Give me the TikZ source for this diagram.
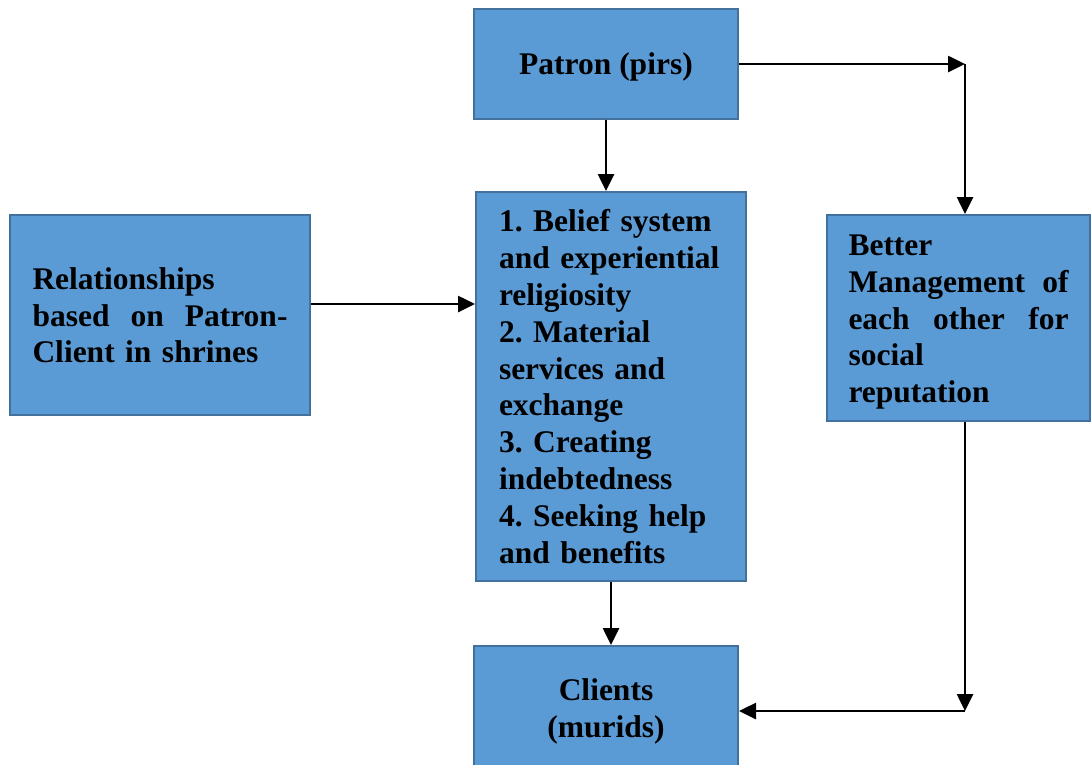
\documentclass[tikz,border=0pt]{standalone}
\usepackage{fontspec}
\setmainfont{Liberation Serif}
\usetikzlibrary{arrows.meta}
\frenchspacing
% full-width line: words pushed apart by \hfill
\newcommand{\spread}[2]{\makebox[#1][l]{#2}}
\tikzset{
  box/.style={draw=boxline, fill=boxfill, line width=2pt, inner sep=0pt,
    text height=28pt, font=\fontsize{31.5}{36.8}\selectfont\bfseries},
  arr/.style={-{Triangle[length=17pt,width=16pt]}, line width=2.6pt}
}
\definecolor{boxfill}{HTML}{5B9BD5}
\definecolor{boxline}{HTML}{41719C}
\begin{document}
\begin{tikzpicture}[x=1pt,y=-1pt]
      \useasboundingbox[fill=white] (0,0) rectangle (1092,764);
      \node[box, minimum width=264pt, minimum height=110pt, text depth=6pt] (patron) at (606,63.5) {Patron (pirs)};
      \node[box, minimum width=300pt, minimum height=200pt, text width=255pt, align=left, text depth=79.6pt]
        (rel) at (160,315) {Relationships\\\spread{255pt}{based\hfill on\hfill Patron-}\\Client in shrines};
      \node[box, minimum width=270pt, minimum height=389pt, text width=224pt, align=left, text depth=337.2pt]
        (mid) at (611,386.5) {1. Belief system\\and experiential\\religiosity\\2. Material\\services and\\exchange\\3. Creating\\indebtedness\\4. Seeking help\\and benefits};
      \node[box, minimum width=263pt, minimum height=206pt, text width=220pt, align=left, text depth=153.2pt]
        (better) at (958.5,318) {Better\\\spread{220pt}{Management\hfill of}\\\spread{220pt}{each\hfill other\hfill for}\\social\\reputation};
      \node[box, minimum width=264pt, minimum height=124pt, text width=220pt, align=center, text depth=42.8pt]
        (clients) at (606,708) {Clients\\(murids)};
      \coordinate (c1) at (965,64);
      \coordinate (c2) at (965,711);
      \begin{scope}[arr]
        \draw (patron.east |- c1) -- (c1);
        \draw (c1) -- (c1 |- better.north);
        \draw (patron.south) -- (patron.south |- mid.north);
        \draw ([yshift=11pt]rel.east) -- ([yshift=11pt]rel.east -| mid.west);
        \draw (mid.south) -- (mid.south |- clients.north);
        \draw (c2 |- better.south) -- (c2);
        \draw (c2) -- (c2 -| clients.east);
      \end{scope}
    \end{tikzpicture}
\end{document}
